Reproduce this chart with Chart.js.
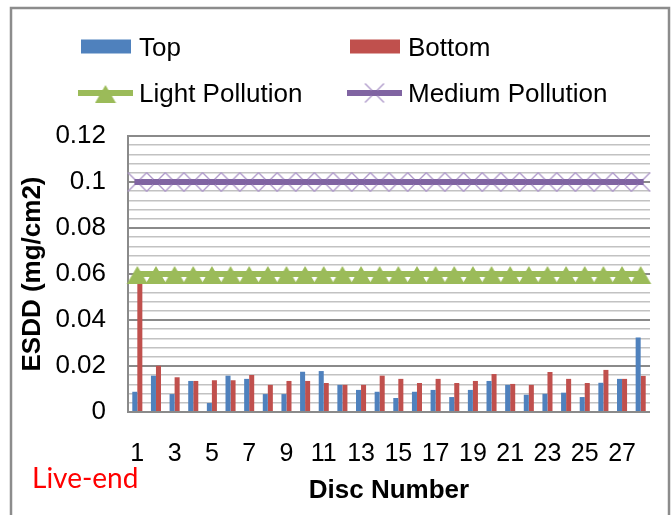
<!DOCTYPE html>
<html>
<head>
<meta charset="utf-8">
<script src="https://cdn.jsdelivr.net/npm/chart.js@4/dist/chart.umd.min.js"></script>
<style>
  html, body { margin: 0; padding: 0; background: #ffffff; }
  #wrap { position: relative; width: 672px; height: 515px; }
</style>
</head>
<body>
<div id="wrap"><canvas id="esdd" width="672" height="515"></canvas></div>
<script>
// Disc positions along the string (x categories)
const discNumbers = ['1','2','3','4','5','6','7','8','9','10','11','12','13','14',
                     '15','16','17','18','19','20','21','22','23','24','25','26','27','28'];

// ESDD measured on the top surface of each disc (mg/cm2)
const topValues = [0.0088, 0.0158, 0.0078, 0.0135, 0.0039, 0.0158, 0.0144, 0.0078, 0.0078, 0.0175,
                   0.0178, 0.0118, 0.0096, 0.0088, 0.0061, 0.0088, 0.0096, 0.0065, 0.0096, 0.0135,
                   0.0118, 0.0075, 0.0079, 0.0084, 0.0065, 0.0127, 0.0144, 0.0324];

// ESDD measured on the bottom surface of each disc (mg/cm2)
const bottomValues = [0.0560, 0.0201, 0.0151, 0.0135, 0.0138, 0.0138, 0.0161, 0.0118, 0.0135, 0.0135,
                      0.0126, 0.0118, 0.0118, 0.0158, 0.0144, 0.0126, 0.0144, 0.0126, 0.0135, 0.0165,
                      0.0122, 0.0118, 0.0174, 0.0144, 0.0126, 0.0183, 0.0144, 0.0157];

// Pollution class limits (mg/cm2)
const lightPollution = [0.06, 0.06, 0.06, 0.06, 0.06, 0.06, 0.06, 0.06, 0.06, 0.06,
                        0.06, 0.06, 0.06, 0.06, 0.06, 0.06, 0.06, 0.06, 0.06, 0.06,
                        0.06, 0.06, 0.06, 0.06, 0.06, 0.06, 0.06, 0.06];
const mediumPollution = [0.1, 0.1, 0.1, 0.1, 0.1, 0.1, 0.1, 0.1, 0.1, 0.1,
                         0.1, 0.1, 0.1, 0.1, 0.1, 0.1, 0.1, 0.1, 0.1, 0.1,
                         0.1, 0.1, 0.1, 0.1, 0.1, 0.1, 0.1, 0.1];

// Y axis range and tick spacing (labels every fifth tick)
const yMin = 0;
const yMax = 0.12;
const yStep = 0.004;
const yLabelEvery = 5;

const FONT = '"Liberation Sans", Arial, sans-serif';
const BLUE = '#4F81BD', RED = '#C0504D', GREEN = '#9BBB59', PURPLE = '#8064A2', LILAC = '#B09BCB';

// Triangle marker: taller below the point than above, drawn on its own canvas
function triangleMarker() {
  const c = document.createElement('canvas');
  c.width = 22; c.height = 22;
  const g = c.getContext('2d');
  g.fillStyle = GREEN;
  g.beginPath();
  g.moveTo(0.5, 21);
  g.lineTo(21.5, 21);
  g.lineTo(11, 3);
  g.closePath();
  g.fill();
  return c;
}

// Thin X marker with the series line running through its centre
function crossMarker() {
  const c = document.createElement('canvas');
  c.width = 22; c.height = 22;
  const g = c.getContext('2d');
  g.strokeStyle = LILAC;
  g.lineWidth = 1.4;
  g.beginPath();
  g.moveTo(1.5, 1.5); g.lineTo(20.5, 20.5);
  g.moveTo(20.5, 1.5); g.lineTo(1.5, 20.5);
  g.stroke();
  g.fillStyle = PURPLE;
  g.fillRect(8, 8, 6, 6);
  return c;
}

const triImg = triangleMarker();
const crossImg = crossMarker();

// Legend laid out in two rows and two columns, plus the frame and side note
const decorations = {
  id: 'decorations',
  beforeDraw(chart) {
    const ctx = chart.ctx;
    ctx.save();
    ctx.fillStyle = '#ffffff';
    ctx.fillRect(0, 0, chart.width, chart.height);
    ctx.restore();
  },
  afterDraw(chart) {
    const ctx = chart.ctx;
    const ds = chart.data.datasets;
    ctx.save();

    // outer frame
    ctx.strokeStyle = '#8C8C8C';
    ctx.lineWidth = 2.5;
    ctx.strokeRect(11, 8, 658, 530);

    // legend
    const entries = [
      { index: 2, x: 81,  y: 46.5 },
      { index: 3, x: 350, y: 46.5 },
      { index: 0, x: 78,  y: 93 },
      { index: 1, x: 347, y: 93 }
    ];
    ctx.font = '26px ' + FONT;
    ctx.textBaseline = 'alphabetic';
    ctx.textAlign = 'left';
    for (const e of entries) {
      const d = ds[e.index];
      let textX;
      if (d.type === 'line') {
        ctx.strokeStyle = d.borderColor;
        ctx.lineWidth = d.borderWidth;
        ctx.beginPath();
        ctx.moveTo(e.x, e.y);
        ctx.lineTo(e.x + 55, e.y);
        ctx.stroke();
        Chart.helpers.drawPoint(ctx, { pointStyle: d.pointStyle, radius: d.pointRadius, rotation: 0, borderWidth: 0 }, e.x + 27.5, e.y);
        textX = e.x + 61;
      } else {
        ctx.fillStyle = d.backgroundColor;
        ctx.fillRect(e.x, e.y - 7, 50, 14);
        textX = e.x + 58;
      }
      ctx.fillStyle = '#000000';
      ctx.fillText(d.label, textX, e.y + 9);
    }

    // side note under the first disc
    ctx.fillStyle = '#FF0000';
    ctx.font = '28px Lato, "Open Sans", sans-serif';
    ctx.fillText('Live-end', 32, 488);
    ctx.restore();
  }
};

new Chart(document.getElementById('esdd'), {
  type: 'bar',
  data: {
    labels: discNumbers,
    datasets: [
      {
        type: 'line',
        label: 'Light Pollution',
        data: lightPollution,
        borderColor: GREEN,
        backgroundColor: GREEN,
        borderWidth: 6,
        pointStyle: triImg,
        pointRadius: 10,
        pointHoverRadius: 10,
        tension: 0,
        order: 1
      },
      {
        type: 'line',
        label: 'Medium Pollution',
        data: mediumPollution,
        borderColor: PURPLE,
        backgroundColor: PURPLE,
        borderWidth: 6,
        pointStyle: crossImg,
        pointRadius: 10,
        pointHoverRadius: 10,
        tension: 0,
        order: 0
      },
      {
        label: 'Top',
        data: topValues,
        backgroundColor: BLUE,
        categoryPercentage: 0.54,
        barPercentage: 1.0,
        order: 2
      },
      {
        label: 'Bottom',
        data: bottomValues,
        backgroundColor: RED,
        categoryPercentage: 0.54,
        barPercentage: 1.0,
        order: 2
      }
    ]
  },
  options: {
    responsive: false,
    maintainAspectRatio: false,
    animation: false,
    devicePixelRatio: 1,
    layout: { padding: { top: 136, right: 22, bottom: 0, left: 0 } },
    plugins: {
      legend: { display: false },
      tooltip: { enabled: false }
    },
    scales: {
      x: {
        grid: { display: false, drawTicks: false },
        border: { display: false },
        ticks: {
          autoSkip: false,
          maxRotation: 0,
          padding: 27,
          color: '#000000',
          font: { family: FONT, size: 25 },
          callback: (value, index) => (index % 2 === 0 ? discNumbers[index] : '')
        },
        title: {
          display: true,
          text: 'Disc Number',
          color: '#000000',
          font: { family: FONT, size: 26, weight: 'bold' },
          padding: { top: 0, bottom: 9 }
        },
        afterFit: (scale) => { scale.height = 103; }
      },
      y: {
        min: yMin,
        max: yMax,
        grid: {
          drawTicks: false,
          color: (c) => (Math.round(c.tick.value / yStep) % yLabelEvery === 0 ? '#8A8A8A' : '#C2C2C2'),
          lineWidth: (c) => (Math.round(c.tick.value / yStep) % yLabelEvery === 0 ? 2 : 1.5)
        },
        border: { color: '#8A8A8A', width: 2 },
        ticks: {
          stepSize: yStep,
          autoSkip: false,
          padding: 22,
          color: '#000000',
          font: { family: FONT, size: 26 },
          callback: (value) => {
            const n = Math.round(value / yStep);
            return n % yLabelEvery === 0 ? String(Math.round(value * 100) / 100) : '';
          }
        },
        title: {
          display: true,
          text: 'ESDD (mg/cm2)',
          color: '#000000',
          font: { family: FONT, size: 26, weight: 'bold' },
          padding: { top: 17, bottom: 0 }
        },
        afterFit: (scale) => { scale.width = 128; }
      }
    }
  },
  plugins: [decorations]
});
</script>
</body>
</html>
